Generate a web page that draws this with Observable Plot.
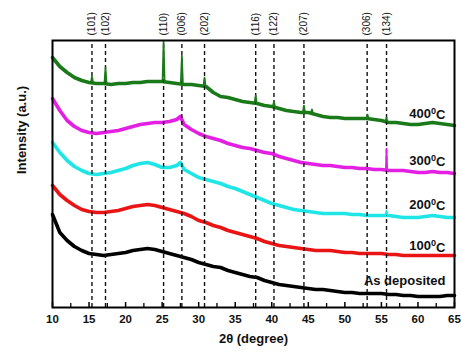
<!DOCTYPE html>
<html>
<head>
<meta charset="utf-8">
<script src="https://cdn.jsdelivr.net/npm/d3@7"></script>
<script src="https://cdn.jsdelivr.net/npm/@observablehq/plot@0.6"></script>
<style>
  html, body { margin: 0; padding: 0; background: #fff; }
</style>
</head>
<body>
<div id="chart"></div>
<script>
// 2θ sampling grid (degrees)
const twoTheta = [10,11,12,13,14,15,16,17,18,19,20,21,22,23,24,25,26,27,28,29,30,31,32,33,34,35,36,37,38,39,40,41,42,43,44,45,46,47,48,49,50,51,52,53,54,55,56,57,58,59,60,61,62,63,64,65];

// Intensity (a.u., offset-stacked)
const asDeposited = [93,75,67,61,57,54,53,52,53,54, 55,57,58,59,58,56,54,52,50,48, 45,43,41,40,37,35,33,31,30,27, 25,23,22,21,20,19,18,18,17,16, 15,15,14,14,14,14,13,13,12,12, 11,11,11,11,12,12];
const c100 = [122,113,107,102,98,96,95,95,96,97, 99,101,102,103,102,100,98,96,94,91, 87,85,82,80,77,75,73,71,69,66, 64,62,61,60,59,58,57,57,57,56, 55,55,54,54,54,54,53,53,52,52, 52,52,52,52,52,52];
const c200 = [165,155,147,141,137,134,133,134,135,137, 139,142,144,145,143,140,140,142,138,134, 130,128,126,124,121,119,116,113,110,107, 104,102,100,98,97,96,95,94,94,94, 94,93,93,92,92,92,92,91,90,90, 90,91,92,91,90,90];
const c300 = [209,197,187,181,177,175,174,175,176,177, 179,181,183,184,185,185,186,188,183,178, 174,171,169,167,164,162,160,159,157,155, 154,151,149,147,145,144,143,142,142,141, 140,140,139,139,138,138,137,137,137,136, 135,135,136,135,135,134];
const c400 = [250,241,235,230,227,225,224,224,223,224, 224,225,225,226,226,226,225,224,223,223, 222,221,215,211,210,208,206,205,204,202, 201,199,197,196,195,195,193,191,190,190, 189,189,189,189,188,187,185,185,184,183, 183,184,185,184,183,182];

// Broad hump maxima (2θ, intensity)
const humpX200 = [27.5], humpY200 = [145];
const humpX300 = [27.5], humpY300 = [191];

// Sharp reflections: triplets (2θ, intensity) — left foot, apex, right foot
const peakX200 = [55.55,55.7,55.85];
const peakY200 = [92,97,92];
const peakX300 = [55.6,55.7,55.8];
const peakY300 = [138,159,137];
const peakX400 = [15.25,15.4,15.55, 17.1,17.25,17.4, 25.05,25.2,25.35, 27.55,27.7,27.85, 30.65,30.8,30.95, 37.65,37.8,37.95, 40.15,40.3,40.45, 44.25,44.4,44.55, 45.35,45.5,45.65, 52.95,53.1,53.25, 55.6,55.7,55.8];
const peakY400 = [225,231,225, 224,240,224, 226,266,225, 224,252,223, 222,230,221, 205,212,204, 201,206,200, 195,202,195, 195,198,194, 189,193,189, 187,190,186];

// Reference reflections
const reflPos = [15.4, 17.25, 25.2, 27.7, 30.8, 37.8, 40.3, 44.4, 53.05, 55.7];
const reflLabel = ["(101)","(102)","(110)","(006)","(202)","(116)","(122)","(207)","(306)","(134)"];

// Axis ticks
const majorTicks = [10,15,20,25,30,35,40,45,50,55,60,65];
const minorTicks = [12.5,17.5,22.5,27.5,32.5,37.5,42.5,47.5,52.5,57.5,62.5];

// Series labels, colours and label levels
const seriesNames = ["As deposited","100°C","200°C","300°C","400°C"];
const seriesColors = ["#000000","#ea1414","#1fe6e6","#e41fe4","#1a7a1a"];
const labelLevel = [27, 61.5, 103, 147, 194];

function build(base, hx, hy) {
  const pts = twoTheta.map((x, i) => ({x, y: base[i]}));
  (hx || []).forEach((x, i) => pts.push({x, y: hy[i]}));
  return pts.sort((a, b) => a.x - b.x);
}
function peaks(px, py) {
  return px.map((x, i) => ({x, y: py[i], g: Math.floor(i / 3)}));
}
const series = [
  {base: build(asDeposited), pk: []},
  {base: build(c100), pk: []},
  {base: build(c200, humpX200, humpY200), pk: peaks(peakX200, peakY200)},
  {base: build(c300, humpX300, humpY300), pk: peaks(peakX300, peakY300)},
  {base: build(c400), pk: peaks(peakX400, peakY400)}
];

const font = "'Liberation Sans', Arial, Helvetica, sans-serif";

const chart = Plot.plot({
  width: 461,
  height: 352,
  marginTop: 40,
  marginBottom: 45,
  marginLeft: 52,
  marginRight: 7,
  x: {domain: [10, 65], axis: null},
  y: {domain: [0, 267], axis: null},
  style: {fontFamily: font, background: "#fff", color: "#000"},
  marks: [
    ...series.map((s, k) => Plot.line(s.base, {x: "x", y: "y", stroke: seriesColors[k], strokeWidth: 3.6})),
    Plot.ruleX(reflPos, {x: d => d, y1: 0, y2: 267, stroke: "#111", strokeWidth: 1.4, strokeDasharray: "4,3"}),
    ...series.map((s, k) => Plot.line(s.pk, {x: "x", y: "y", z: "g", stroke: seriesColors[k], strokeWidth: 1.7})),
    Plot.ruleX(majorTicks, {x: d => d, y1: 0, y2: 5, stroke: "#000", strokeWidth: 1.5}),
    Plot.ruleX(minorTicks, {x: d => d, y1: 0, y2: 4, stroke: "#000", strokeWidth: 1.3}),
    Plot.frame({stroke: "#000", strokeWidth: 2}),
    Plot.text(majorTicks, {x: d => d, y: 0, dy: 12, text: d => String(d), fontWeight: "bold", fontSize: 11.5, fill: "#111"}),
    Plot.text(reflPos, {x: d => d, y: 267, dy: -5, text: (d, i) => reflLabel[i], rotate: -90, textAnchor: "start", fontSize: 10, fill: "#111"}),
    Plot.text(seriesNames, {x: 65, y: (d, i) => labelLevel[i], dx: -9, textAnchor: "end", text: d => d, fontWeight: "bold", fontSize: 13, fill: "#111", className: "serieslabel"}),
    Plot.text(["2θ (degree)"], {frameAnchor: "bottom", dy: 35, text: d => d, fontWeight: "bold", fontSize: 13, fill: "#111"}),
    Plot.text(["Intensity (a.u.)"], {frameAnchor: "left", dx: -31, rotate: -90, text: d => d, fontWeight: "bold", fontSize: 13, fill: "#111"})
  ]
});

// superscript "0" in the temperature labels (as in the original figure)
d3.select(chart).selectAll(".serieslabel text").each(function() {
  const t = this.textContent;
  if (t.indexOf("°") < 0) return;
  const [a, b] = t.split("°");
  const sel = d3.select(this);
  sel.text(null);
  sel.append("tspan").text(a);
  sel.append("tspan").attr("dy", "-0.45em").attr("font-size", "0.7em").text("0");
  sel.append("tspan").attr("dy", "0.45em").text(b);
});

document.getElementById("chart").appendChild(chart);
</script>
</body>
</html>
